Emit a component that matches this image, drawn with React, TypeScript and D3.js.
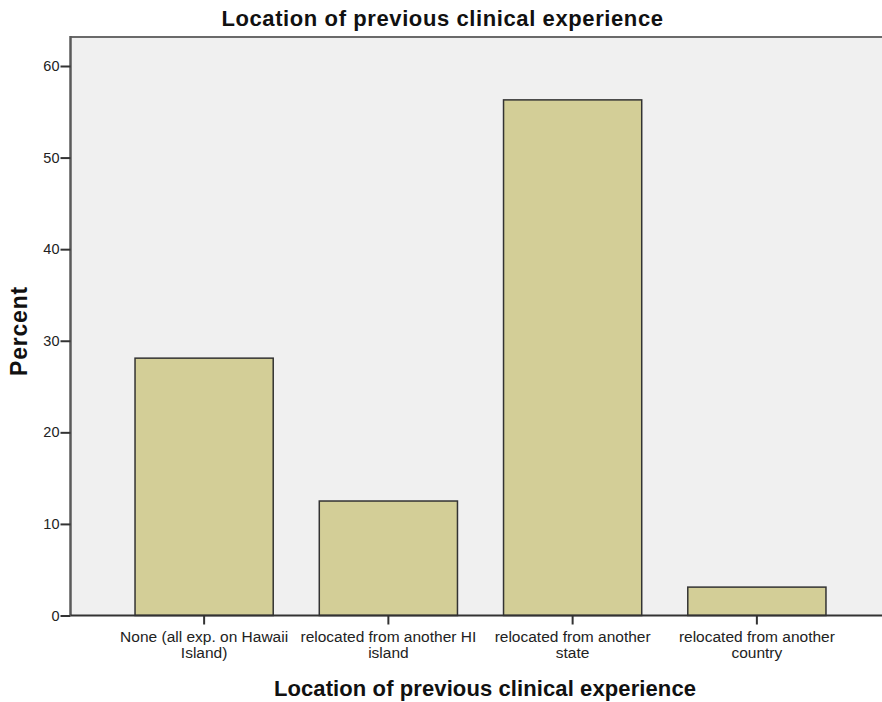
import React, { useEffect, useRef } from "react";
import * as d3 from "d3";

const categories = [
  ["None (all exp. on Hawaii", "Island)"],
  ["relocated from another HI", "island"],
  ["relocated from another", "state"],
  ["relocated from another", "country"],
];
const percents = [28.1, 12.5, 56.3, 3.1];
const yTicks = [0, 10, 20, 30, 40, 50, 60];

const App = () => {
  const svgRef = useRef<SVGSVGElement>(null);

  useEffect(() => {
    const svg = d3.select(svgRef.current);
    svg.selectAll("*").remove();

    const W = 882;
    const H = 702;
    const plot = { left: 70.5, top: 37, right: 882, bottom: 615.5 };
    const font = "Liberation Sans, Arial, sans-serif";

    svg.attr("width", W).attr("height", H).style("font-family", font);

    const keys = categories.map((c) => c.join(" "));
    const x = d3
      .scaleBand<string>()
      .domain(keys)
      .range([112, 849])
      .paddingInner(0.25)
      .paddingOuter(0.125);
    const y = d3.scaleLinear().domain([0, 60]).range([plot.bottom, 66]);

    // background
    svg
      .append("rect")
      .attr("x", plot.left)
      .attr("y", plot.top)
      .attr("width", plot.right - plot.left)
      .attr("height", plot.bottom - plot.top)
      .attr("fill", "#f0f0f0");

    svg
      .append("line")
      .attr("x1", plot.left)
      .attr("x2", plot.right)
      .attr("y1", plot.top)
      .attr("y2", plot.top)
      .attr("stroke", "#6a6a6a")
      .attr("stroke-width", 2);

    // bars
    svg
      .selectAll("rect.bar")
      .data(percents)
      .enter()
      .append("rect")
      .attr("class", "bar")
      .attr("x", (d, i) => x(keys[i])!)
      .attr("y", (d) => y(d))
      .attr("width", x.bandwidth())
      .attr("height", (d) => y(0) - y(d))
      .attr("fill", "#d3ce97")
      .attr("stroke", "#333")
      .attr("stroke-width", 1.5);

    // y axis
    const yAxis = svg
      .append("g")
      .attr("transform", `translate(${plot.left},0)`)
      .call(d3.axisLeft(y).tickValues(yTicks).tickSize(10).tickPadding(1));
    yAxis.select(".domain").attr("stroke", "#5a5a5a").attr("stroke-width", 2.5).attr("d", `M0,${plot.top - 1}V${plot.bottom}`);
    yAxis.selectAll(".tick line").attr("stroke", "#333").attr("stroke-width", 2);
    yAxis.selectAll(".tick text").attr("font-size", 14.5).attr("fill", "#222").attr("font-family", font);

    // x axis
    const xAxis = svg
      .append("g")
      .attr("transform", `translate(0,${plot.bottom})`)
      .call(d3.axisBottom(x).tickSize(9).tickFormat(() => ""));
    xAxis.select(".domain").attr("stroke", "#333").attr("stroke-width", 2).attr("d", `M${plot.left},0H${plot.right}`);
    xAxis.selectAll(".tick line").attr("stroke", "#333").attr("stroke-width", 2);

    categories.forEach((lines, i) => {
      const cx = x(keys[i])! + x.bandwidth() / 2;
      const t = svg
        .append("text")
        .attr("text-anchor", "middle")
        .attr("font-size", 15.5)
        .attr("fill", "#222");
      lines.forEach((l, j) => {
        t.append("tspan").attr("x", cx).attr("y", 642 + j * 16).text(l);
      });
    });

    // titles
    svg
      .append("text")
      .attr("x", 442.5)
      .attr("y", 26)
      .attr("text-anchor", "middle")
      .attr("font-size", 22)
      .attr("letter-spacing", 0.6)
      .attr("font-weight", "bold")
      .attr("fill", "#111")
      .text("Location of previous clinical experience");

    svg
      .append("text")
      .attr("x", 485)
      .attr("y", 696)
      .attr("text-anchor", "middle")
      .attr("font-size", 22)
      .attr("letter-spacing", 0.1)
      .attr("font-weight", "bold")
      .attr("fill", "#111")
      .text("Location of previous clinical experience");

    svg
      .append("text")
      .attr("transform", "rotate(-90)")
      .attr("x", -331)
      .attr("y", 27)
      .attr("text-anchor", "middle")
      .attr("font-size", 23)
      .attr("letter-spacing", 0.8)
      .attr("font-weight", "bold")
      .attr("fill", "#111")
      .text("Percent");
  }, []);

  return (
    <div style={{ position: "absolute", left: 0, top: 0 }}>
      <svg ref={svgRef}></svg>
    </div>
  );
};

export default App;
